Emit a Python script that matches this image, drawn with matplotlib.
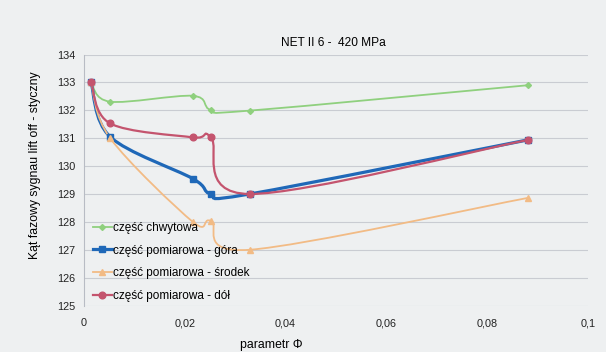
import matplotlib.pyplot as plt
from matplotlib.lines import Line2D
from matplotlib.patches import PathPatch
from matplotlib.path import Path

plt.rcParams["font.family"] = ["Liberation Sans", "DejaVu Sans"]

PHI = [0.0014, 0.0052, 0.0216, 0.0252, 0.0329, 0.0881]
CHWYTOWA = [133.0, 132.31, 132.52, 132.01, 131.99, 132.9]
GORA = [133.0, 131.05, 129.55, 129.0, 129.0, 130.94]
SRODEK = [133.0, 131.0, 128.0, 128.03, 127.0, 128.86]
DOL = [133.0, 131.53, 131.03, 131.03, 129.0, 130.94]

SERIES = [
    ("część chwytowa", CHWYTOWA),
    ("część pomiarowa - góra", GORA),
    ("część pomiarowa - środek", SRODEK),
    ("część pomiarowa - dół", DOL),
]
STYLES = [
    dict(color="#8fd07e", lw=1.3, marker="D", ms=3),
    dict(color="#1f68b8", lw=2.3, marker="s", ms=4.5),
    dict(color="#f2bb85", lw=1.3, marker="^", ms=4),
    dict(color="#c4546e", lw=1.6, marker="o", ms=4.8),
]

X_TICKS = [0, 0.02, 0.04, 0.06, 0.08, 0.1]
X_TICK_LABELS = ["0", "0,02", "0,04", "0,06", "0,08", "0,1"]
Y_TICKS = list(range(125, 135))

BG = "#eef0f1"


def smooth_path(xs, ys):
    # cubic Bezier segments through every point (spreadsheet-style smoothed line)
    pts = list(zip(xs, ys))
    n = len(pts)
    verts = [pts[0]]
    codes = [Path.MOVETO]
    for i in range(n - 1):
        p0 = pts[max(i - 1, 0)]
        p1 = pts[i]
        p2 = pts[i + 1]
        p3 = pts[min(i + 2, n - 1)]
        c1 = (p1[0] + (p2[0] - p0[0]) / 6, p1[1] + (p2[1] - p0[1]) / 6)
        c2 = (p2[0] - (p3[0] - p1[0]) / 6, p2[1] - (p3[1] - p1[1]) / 6)
        verts += [c1, c2, p2]
        codes += [Path.CURVE4] * 3
    return Path(verts, codes)


fig = plt.figure(figsize=(6.06, 3.52), dpi=100)
fig.patch.set_facecolor(BG)
ax = fig.add_axes([0.1386, 0.132, 0.8314, 0.713])
ax.set_facecolor(BG)

handles = []
for (label, values), st in zip(SERIES, STYLES):
    ax.add_patch(PathPatch(smooth_path(PHI, values), fill=False,
                           edgecolor=st["color"], lw=st["lw"], zorder=3))
    ax.plot(PHI, values, linestyle="none", marker=st["marker"], ms=st["ms"],
            color=st["color"], markeredgecolor=st["color"], zorder=4)
    handles.append(Line2D([], [], color=st["color"], lw=st["lw"],
                          marker=st["marker"], ms=st["ms"], label=label))

ax.set_xlim(0, 0.1)
ax.set_ylim(125, 134)
ax.set_xticks(X_TICKS)
ax.set_xticklabels(X_TICK_LABELS)
ax.set_yticks(Y_TICKS)
ax.tick_params(axis="both", length=0, labelsize=7.8, colors="#222222")
ax.tick_params(axis="x", pad=9)
ax.tick_params(axis="y", pad=6)
ax.grid(axis="y", color="#c9ccd2", linewidth=0.8)
for side in ["top", "right", "bottom"]:
    ax.spines[side].set_visible(False)
ax.spines["left"].set_color("#b8bcc4")
ax.spines["left"].set_linewidth(0.8)

ax.set_title("NET II 6 -  420 MPa", fontsize=8.6, pad=6, x=0.494)
ax.set_xlabel("parametr Φ", fontsize=8.8)
ax.xaxis.set_label_coords(0.371, -0.133)
ax.set_ylabel("Kąt fazowy sygnau lift off - styczny", fontsize=8.8)
ax.yaxis.set_label_coords(-0.086, 0.56)

ax.legend(handles=handles, loc="lower left", bbox_to_anchor=(0.008, -0.006),
          frameon=False, fontsize=8.5, handlelength=1.6, handletextpad=0.15,
          labelspacing=0.92, borderaxespad=0.0)

fig.savefig("out.png", dpi=100, facecolor=BG)
